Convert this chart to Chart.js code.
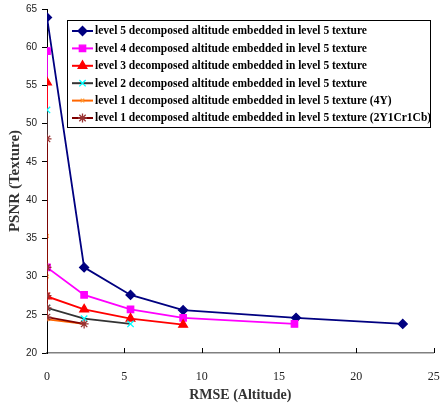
<!DOCTYPE html>
<html>
<head>
<meta charset="utf-8">
<script src="https://cdn.jsdelivr.net/npm/chart.js@4"></script>
<style>
  html, body { margin: 0; padding: 0; background: #fff; }
  #wrap { width: 440px; height: 413px; }
</style>
</head>
<body>
<div id="wrap"><canvas id="chart" width="440" height="413"></canvas></div>
<script>
// RMSE (Altitude) vs PSNR (Texture)

const X_TICKS = [0, 5, 10, 15, 20, 25];
const Y_TICKS = [20, 25, 30, 35, 40, 45, 50, 55, 60, 65];

const LABELS = [
  'level 5 decomposed altitude embedded in level 5 texture',
  'level 4 decomposed altitude embedded in level 5 texture',
  'level 3 decomposed altitude embedded in level 5 texture',
  'level 2 decomposed altitude embedded in level 5 texture',
  'level 1 decomposed altitude embedded in level 5 texture (4Y)',
  'level 1 decomposed altitude embedded in level 5 texture (2Y1Cr1Cb)',
];

const level5X = [0, 2.4, 5.4, 8.8, 16.1, 23.0];
const level5Y = [63.9, 31.2, 27.6, 25.6, 24.6, 23.8];

const level4X = [0, 0, 2.4, 5.4, 8.8, 16.0];
const level4Y = [59.5, 31.2, 27.6, 25.7, 24.6, 23.8];

const level3X = [0, 0, 2.4, 5.4, 8.8];
const level3Y = [55.4, 27.4, 25.7, 24.5, 23.7];

const level2X = [0, 0, 2.4, 5.4];
const level2Y = [51.8, 25.9, 24.5, 23.8];

const level1aX = [0, 0, 0, 2.4];
const level1aY = [35.3, 30.0, 24.4, 23.8];

const level1bX = [0, 0, 0, 0, 0, 2.4];
const level1bY = [48.0, 31.2, 27.5, 25.9, 24.7, 23.8];

const pts = (xs, ys) => xs.map((x, i) => ({ x, y: ys[i] }));

const STYLES = [
  { line: '#000080', mark: '#000080', style: 'rectRot',  r: 4.5 },
  { line: '#FF00FF', mark: '#FF00FF', style: 'rect',     r: 4.5 },
  { line: '#FF0000', mark: '#FF0000', style: 'triangle', r: 5 },
  { line: '#333333', mark: '#00FFFF', style: 'crossRot', r: 4.5 },
  { line: '#FF6600', mark: '#FF9933', style: 'crossRot', r: 2.5 },
  { line: '#800000', mark: '#993333', style: 'star',     r: 4.5 },
];

const SERIES = [
  pts(level5X, level5Y),
  pts(level4X, level4Y),
  pts(level3X, level3Y),
  pts(level2X, level2Y),
  pts(level1aX, level1aY),
  pts(level1bX, level1bY),
];

const datasets = SERIES.map((data, i) => ({
  label: LABELS[i],
  data,
  showLine: true,
  borderColor: STYLES[i].line,
  borderWidth: 1.8,
  pointStyle: STYLES[i].style,
  pointRadius: STYLES[i].r,
  pointBackgroundColor: STYLES[i].mark,
  pointBorderColor: STYLES[i].mark,
  pointBorderWidth: 1.3,
  tension: 0,
  order: LABELS.length - i,
}));

// inside tick marks on the x axis
const xTicksInside = {
  id: 'xTicksInside',
  afterDatasetsDraw(chart) {
    const ctx = chart.ctx, sx = chart.scales.x, b = chart.chartArea.bottom;
    ctx.save();
    ctx.strokeStyle = '#000';
    ctx.lineWidth = 1;
    X_TICKS.forEach(v => {
      const px = Math.round(sx.getPixelForValue(v)) + 0.5;
      ctx.beginPath();
      ctx.moveTo(px, b);
      ctx.lineTo(px, b - 5);
      ctx.stroke();
    });
    ctx.restore();
  }
};

// boxed legend inside the plot
const boxLegend = {
  id: 'boxLegend',
  afterDraw(chart) {
    const ctx = chart.ctx;
    const left = 67, top = 20, w = 363, h = 107;
    const rowH = 17.4;
    ctx.save();
    ctx.fillStyle = '#fff';
    ctx.fillRect(left, top, w, h);
    ctx.strokeStyle = '#000';
    ctx.lineWidth = 1;
    ctx.strokeRect(left + 0.5, top + 0.5, w, h);
    ctx.font = 'bold 11.5px "Liberation Serif", "Times New Roman", serif';
    ctx.textBaseline = 'middle';
    LABELS.forEach((lab, i) => {
      const y = top + 11 + i * rowH;
      const st = STYLES[i];
      ctx.strokeStyle = st.line;
      ctx.lineWidth = 2;
      ctx.beginPath();
      ctx.moveTo(72, y);
      ctx.lineTo(93, y);
      ctx.stroke();
      ctx.fillStyle = st.mark;
      ctx.strokeStyle = st.mark;
      ctx.lineWidth = 1.3;
      Chart.helpers.drawPoint(ctx, {
        pointStyle: st.style, radius: st.r, borderWidth: 1.3, rotation: 0
      }, 82.5, y);
      ctx.fillStyle = '#000';
      ctx.fillText(lab, 95, y + 0.5);
    });
    ctx.restore();
  }
};

new Chart(document.getElementById('chart'), {
  type: 'scatter',
  data: { datasets },
  options: {
    responsive: false,
    animation: false,
    layout: { padding: { top: 9, right: 0, bottom: 0, left: 0 } },
    plugins: { legend: { display: false }, tooltip: { enabled: false } },
    scales: {
      x: {
        type: 'linear',
        min: 0, max: 25,
        afterBuildTicks: s => { s.ticks = X_TICKS.map(v => ({ value: v })); },
        afterFit: s => { s.height = 60; s.paddingLeft = 0; s.paddingRight = 6; },
        grid: { display: false, drawTicks: false },
        border: { display: true, color: '#808080', width: 1.5 },
        ticks: {
          padding: 17,
          color: '#222',
          font: { family: '"Liberation Serif", "Times New Roman", serif', size: 12 },
        },
        title: {
          display: true,
          text: 'RMSE (Altitude)',
          color: '#333',
          padding: { top: 4, bottom: 9 },
          font: { family: '"Liberation Serif", "Times New Roman", serif', size: 14, weight: 'bold' },
        },
      },
      y: {
        type: 'linear',
        min: 20, max: 65,
        afterBuildTicks: s => { s.ticks = Y_TICKS.map(v => ({ value: v })); },
        afterFit: s => { s.width = 47; s.paddingTop = 0; s.paddingBottom = 0; },
        grid: { drawOnChartArea: false, drawTicks: true, tickLength: 5, color: '#000' },
        border: { display: true, color: '#000', width: 1 },
        ticks: {
          padding: 5,
          color: '#222',
          font: { family: '"Liberation Sans", Arial, sans-serif', size: 10 },
        },
        title: {
          display: true,
          text: 'PSNR (Texture)',
          color: '#333',
          padding: { top: 6, bottom: 2 },
          font: { family: '"Liberation Serif", "Times New Roman", serif', size: 15, weight: 'bold' },
        },
      },
    },
  },
  plugins: [xTicksInside, boxLegend],
});
</script>
</body>
</html>
